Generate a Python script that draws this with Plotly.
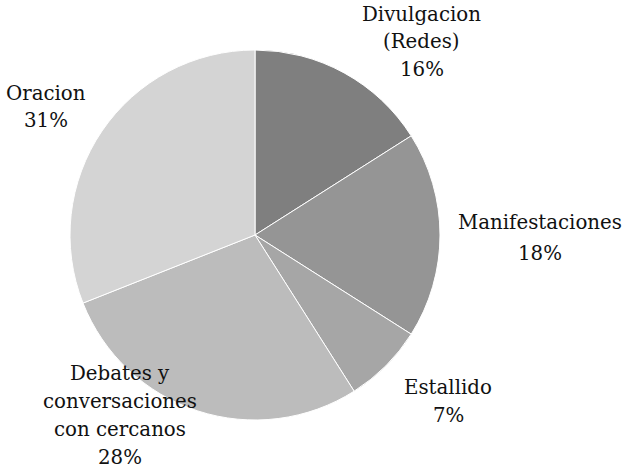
import plotly.graph_objects as go

# ---- data ----
labels = ["Divulgacion<br>(Redes)", "Manifestaciones", "Estallido",
          "Debates y<br>conversaciones<br>con cercanos", "Oracion"]
values = [16, 18, 7, 28, 31]
colors = ["#7f7f7f", "#959595", "#a6a6a6", "#bcbcbc", "#d4d4d4"]

# ---- layout config (label placement in pixels: centre x, first line centre y, line pitch) ----
W, H = 623, 470
label_pos = [
    (421.5, 14.5, 27.3),
    (540.0, 222.0, 31.0),
    (448.0, 387.5, 28.0),
    (120.0, 373.5, 28.0),
    (45.5, 93.0, 27.6),
]
cx, cy, r = 255, 235, 185
FONT = "DejaVu Serif"

fig = go.Figure(go.Pie(
    labels=[l.replace("<br>", " ") for l in labels],
    values=values,
    sort=False,
    direction="clockwise",
    rotation=0,
    marker=dict(colors=colors, line=dict(color="white", width=1)),
    textinfo="none",
    hoverinfo="none",
    showlegend=False,
    domain=dict(x=[(cx - r) / W, (cx + r) / W], y=[(H - cy - r) / H, (H - cy + r) / H]),
))

total = sum(values)
annotations = []
for lab, v, (x, y0, pitch) in zip(labels, values, label_pos):
    lines = lab.split("<br>") + [f"{v / total * 100:.0f}%"]
    for i, line in enumerate(lines):
        yc = y0 + i * pitch
        annotations.append(dict(
            text=line, x=x / W, y=1 - yc / H, xref="paper", yref="paper",
            xanchor="center", yanchor="middle", showarrow=False,
            font=dict(family=FONT, size=19.8, color="#111111"),
        ))

fig.update_layout(
    width=W, height=H,
    margin=dict(l=0, r=0, t=0, b=0),
    paper_bgcolor="white", plot_bgcolor="white",
    font=dict(family=FONT),
    annotations=annotations,
)

fig.write_html("out.html")
